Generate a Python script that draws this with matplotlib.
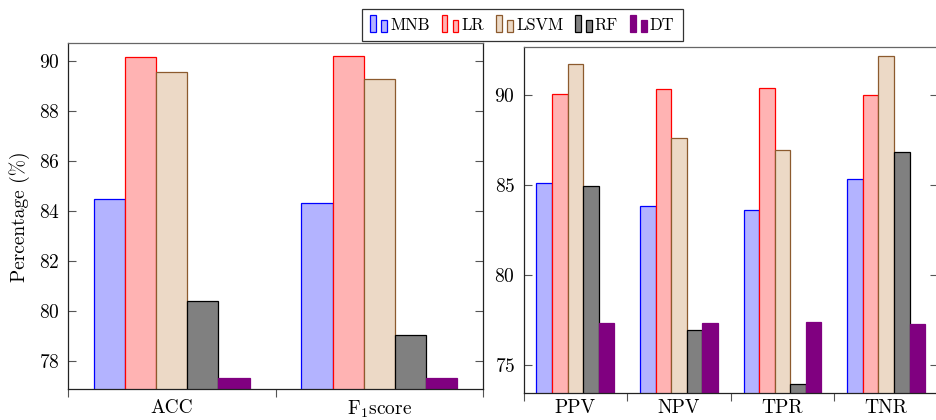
import numpy as np
import matplotlib
matplotlib.use("Agg")
import matplotlib.pyplot as plt
from matplotlib.patches import Rectangle
from matplotlib.legend_handler import HandlerBase

plt.rcParams['font.family'] = 'serif'
plt.rcParams['font.serif'] = ['cmr10']
plt.rcParams['mathtext.fontset'] = 'cm'
plt.rcParams['axes.unicode_minus'] = False
plt.rcParams['axes.formatter.use_mathtext'] = True

# data
models = ['MNB', 'LR', 'LSVM', 'RF', 'DT']
left_metrics = ['ACC', r'F$_1$score']
right_metrics = ['PPV', 'NPV', 'TPR', 'TNR']

left_values = {
    'MNB':  [84.47, 84.32],
    'LR':   [90.17, 90.20],
    'LSVM': [89.56, 89.27],
    'RF':   [80.38, 79.03],
    'DT':   [77.33, 77.33],
}
right_values = {
    'MNB':  [85.08, 83.84, 83.60, 85.33],
    'LR':   [90.05, 90.32, 90.38, 90.00],
    'LSVM': [91.70, 87.58, 86.94, 92.15],
    'RF':   [84.93, 76.92, 73.93, 86.83],
    'DT':   [77.32, 77.32, 77.35, 77.28],
}

left_yticks = [78, 80, 82, 84, 86, 88, 90]
right_yticks = [75, 80, 85, 90]

face = {'MNB': '#b3b3ff', 'LR': '#ffb3b3', 'LSVM': '#ecd9c6', 'RF': '#808080', 'DT': '#800080'}
edge = {'MNB': '#0000ff', 'LR': '#ff0000', 'LSVM': '#8c5a2e', 'RF': '#000000', 'DT': '#800080'}


class TwoBars(HandlerBase):
    # pgfplots style ybar legend: two little bars
    def create_artists(self, legend, orig_handle, xdescent, ydescent,
                       width, height, fontsize, trans):
        fc = orig_handle.get_facecolor()
        ec = orig_handle.get_edgecolor()
        w = width * 0.34
        y0 = -ydescent - height * 0.2
        r1 = Rectangle((-xdescent, y0), w, height * 1.5, facecolor=fc,
                       edgecolor=ec, lw=0.9, transform=trans)
        r2 = Rectangle((-xdescent + width * 0.66, y0), w, height * 1.08,
                       facecolor=fc, edgecolor=ec, lw=0.9, transform=trans)
        return [r1, r2]


def style_axis(ax, n, yticks, ylim, xpad):
    ax.set_xlim(0.5, n + 0.5)
    ax.set_ylim(*ylim)
    ax.set_yticks(yticks)
    ax.set_xticks(np.arange(1, n + 1))
    ax.set_xticks(np.arange(0.5, n + 1, 1.0), minor=True)
    ax.tick_params(axis='x', which='major', length=0, labelsize=14, pad=xpad)
    ax.tick_params(axis='x', which='minor', length=6, direction='out',
                   color='#555555', width=0.8)
    ax.tick_params(axis='y', which='major', length=6, direction='in',
                   left=True, right=True, labelsize=14, color='#555555',
                   width=0.8, pad=6)
    for s in ax.spines.values():
        s.set_linewidth(0.9)
        s.set_color('#222222')
    ax.spines['top'].set_color('#666666')


fig = plt.figure(figsize=(9.37, 4.2), dpi=100)
ax1 = fig.add_axes([0.0726, 0.0731, 0.4429, 0.8238])
ax2 = fig.add_axes([0.5587, 0.0636, 0.4424, 0.8252])

bw = 0.15
x1 = np.arange(1, len(left_metrics) + 1)
x2 = np.arange(1, len(right_metrics) + 1)
handles = []
for i, m in enumerate(models):
    off = (i - 2) * bw
    b = ax1.bar(x1 + off, left_values[m], bw, facecolor=face[m],
                edgecolor=edge[m], linewidth=0.9, label=m)
    ax2.bar(x2 + off, right_values[m], bw, facecolor=face[m],
            edgecolor=edge[m], linewidth=0.9)
    handles.append(b.patches[0])

style_axis(ax1, len(left_metrics), left_yticks, (76.86, 90.71), 7)
style_axis(ax2, len(right_metrics), right_yticks, (73.41, 92.68), 4)
ax1.set_xticklabels(left_metrics)
ax2.set_xticklabels(right_metrics)
ax1.set_ylabel('Percentage (%)', fontsize=14, labelpad=6)

leg = fig.legend(handles, models, loc='upper center',
                 bbox_to_anchor=(0.5575, 0.978), ncol=5, fontsize=12,
                 frameon=True, fancybox=False, edgecolor='black',
                 handler_map={Rectangle: TwoBars()}, handlelength=1.0,
                 handletextpad=0.2, columnspacing=0.7, borderpad=0.5,
                 borderaxespad=0.0)
leg.get_frame().set_linewidth(0.9)

fig.savefig('out.png', dpi=100)
